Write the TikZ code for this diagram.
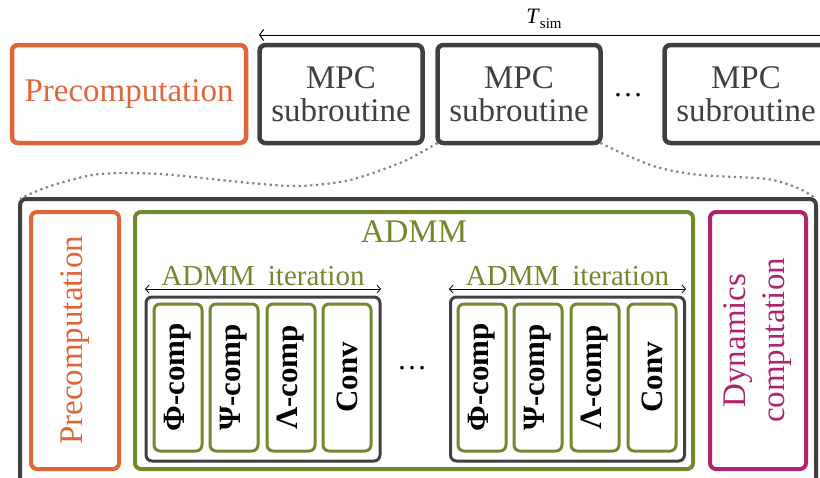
\documentclass[tikz,border=0pt]{standalone}
\usepackage{fontspec}
\setmainfont{Liberation Serif}
\usetikzlibrary{arrows.meta}
\definecolor{orng}{RGB}{224,102,58}
\definecolor{dgray}{RGB}{64,64,64}
\definecolor{grn}{RGB}{110,138,45}
\definecolor{mag}{RGB}{176,36,110}
\definecolor{dotgray}{RGB}{130,130,130}
\begin{document}
\begin{tikzpicture}[x=1pt,y=-1pt,
  box/.style={draw, rounded corners=6pt, inner sep=0pt, outer sep=0pt},
  bigfont/.style={font=\fontsize{33}{33}\selectfont},
  topbox/.style={box, line width=4.5pt, minimum height=98pt, bigfont, align=center},
  prebox/.style={topbox, draw=orng, text=orng},
  mpcbox/.style={topbox, draw=dgray, text=dgray, minimum width=163pt},
  colbox/.style={box, line width=4pt, rotate=90, minimum width=257pt, bigfont, align=center},
  iterbox/.style={box, draw=dgray, line width=3pt, minimum width=234pt, minimum height=164pt},
  compbox/.style={box, draw=grn, line width=3pt, rotate=90, minimum width=147pt, minimum height=48pt,
    font=\fontsize{31}{31}\selectfont\bfseries},
  dotline/.style={draw=dotgray, line width=2.2pt, dash pattern=on 2.2pt off 3.6pt},
  iterarrow/.style={line width=0.8pt, {Straight Barb[length=3.5pt,width=8pt]}-{Straight Barb[length=3.5pt,width=8pt]}},
  itertext/.style={text=grn, anchor=base, font=\fontsize{29}{29}\selectfont, inner sep=0pt}
]
\clip (0,0) rectangle (820,477);

% top row
\node[prebox, minimum width=234pt] (pre) at (129,94) {Precomputation};
\node[mpcbox] (mpc1) at (341,94) {MPC\\subroutine};
\node[mpcbox] (mpc2) at (519,94) {MPC\\subroutine};
\node[mpcbox] (mpc3) at (746,94) {MPC\\subroutine};
\node[anchor=base, font=\fontsize{30}{30}\selectfont, inner sep=0pt] (tdots) at (628,96) {\dots};

% T_sim arrow
\coordinate (tl) at (259,35);
\coordinate (tr) at (830,35);
\draw[line width=1pt, {Straight Barb[length=4pt,width=11pt]}-] (tl) -- (tr);
\node[anchor=base, inner sep=0pt, font=\fontsize{22}{22}\selectfont] (tsim) at (544,23)
  {\textit{T}\raisebox{-5pt}{\fontsize{15}{15}\selectfont sim}};

% outer box
\node[box, draw=dgray, line width=4pt, minimum width=796pt, minimum height=301pt] (outer) at (418,349.5) {};

% dotted zoom curves
\draw[dotline] plot[smooth] coordinates {(mpc2.south west) (420,153) (400,163) (350,180) (300,186) (250,183) (160,174) (100,174) (60,183) (32,193) (outer.north west)};
\draw[dotline] plot[smooth] coordinates {(mpc2.south east) (615,150) (633,158) (660,168) (700,175) (767,179) (800,189) (outer.north east)};

% columns
\node[colbox, draw=orng, text=orng, minimum height=88pt] (ipre) at (75,340.5) {Precomputation};
\node[box, draw=grn, line width=4pt, minimum width=558pt, minimum height=257pt] (admm) at (414,340.5) {};
\node[anchor=base, text=grn, bigfont, inner sep=0pt] (admmlbl) at (414,242) {ADMM};
\node[colbox, draw=mag, text=mag, minimum height=96pt, font=\fontsize{33}{39}\selectfont] (dyn) at (758,340.5) {Dynamics\\computation};

% iteration 1
\node[iterbox] (it1) at (263,379) {};
\coordinate (a1l) at (145,289);
\coordinate (a1r) at (381,289);
\draw[iterarrow] (a1l) -- (a1r);
\node[itertext] (it1lbl) at (263,285) {ADMM\hspace{0.45em}iteration};
\node[compbox] (phi1) at (178,377.5) {Φ-comp};
\node[compbox] (psi1) at (234,377.5) {Ψ-comp};
\node[compbox] (lam1) at (291,377.5) {Λ-comp};
\node[compbox] (conv1) at (347,377.5) {Conv};

\node[anchor=base, font=\fontsize{30}{30}\selectfont, inner sep=0pt] (mdots) at (412,369) {\dots};

% iteration 2
\node[iterbox] (it2) at (567.5,379) {};
\coordinate (a2l) at (449,289);
\coordinate (a2r) at (686,289);
\draw[iterarrow] (a2l) -- (a2r);
\node[itertext] (it2lbl) at (567.5,285) {ADMM\hspace{0.45em}iteration};
\node[compbox] (phi2) at (482,377.5) {Φ-comp};
\node[compbox] (psi2) at (538,377.5) {Ψ-comp};
\node[compbox] (lam2) at (595,377.5) {Λ-comp};
\node[compbox] (conv2) at (652,377.5) {Conv};
\end{tikzpicture}
\end{document}
